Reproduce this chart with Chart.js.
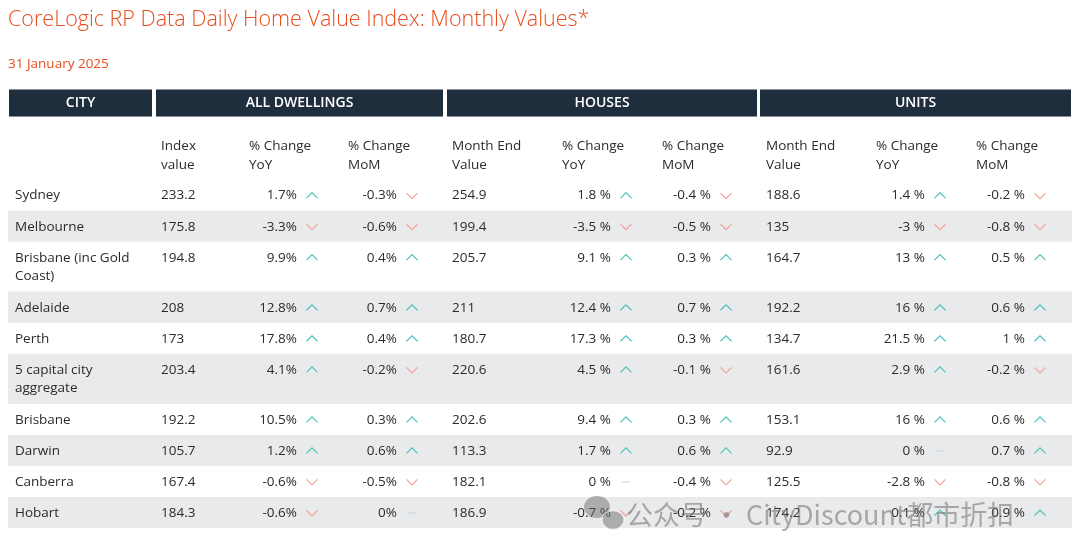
<!DOCTYPE html>
<html>
<head>
<meta charset="utf-8">
<script src="https://cdn.jsdelivr.net/npm/chart.js@4.4.1/dist/chart.umd.min.js"></script>
<style>
  html, body { margin: 0; padding: 0; background: #fff; }
  canvas { display: block; }
</style>
</head>
<body>
<canvas id="homeValueTable" width="1080" height="557"></canvas>
<script>
var cities = ['Sydney', 'Melbourne', 'Brisbane (inc Gold Coast)', 'Adelaide', 'Perth',
              '5 capital city aggregate', 'Brisbane', 'Darwin', 'Canberra', 'Hobart'];

var allIndex  = [233.2, 175.8, 194.8, 208, 173, 203.4, 192.2, 105.7, 167.4, 184.3];
var allYoY    = [1.7, -3.3, 9.9, 12.8, 17.8, 4.1, 10.5, 1.2, -0.6, -0.6];
var allMoM    = [-0.3, -0.6, 0.4, 0.7, 0.4, -0.2, 0.3, 0.6, -0.5, 0];

var houseValue = [254.9, 199.4, 205.7, 211, 180.7, 220.6, 202.6, 113.3, 182.1, 186.9];
var houseYoY   = [1.8, -3.5, 9.1, 12.4, 17.3, 4.5, 9.4, 1.7, 0, -0.7];
var houseMoM   = [-0.4, -0.5, 0.3, 0.7, 0.3, -0.1, 0.3, 0.6, -0.4, -0.2];

var unitValue = [188.6, 135, 164.7, 192.2, 134.7, 161.6, 153.1, 92.9, 125.5, 174.2];
var unitYoY   = [1.4, -3, 13, 16, 21.5, 2.9, 16, 0, -2.8, 0.1];
var unitMoM   = [-0.2, -0.8, 0.5, 0.6, 1, -0.2, 0.6, 0.7, -0.8, 0.9];

var groupTitles = ['CITY', 'ALL DWELLINGS', 'HOUSES', 'UNITS'];
var subHeaders = [
  ['Index', 'value'], ['% Change', 'YoY'], ['% Change', 'MoM'],
  ['Month End', 'Value'], ['% Change', 'YoY'], ['% Change', 'MoM'],
  ['Month End', 'Value'], ['% Change', 'YoY'], ['% Change', 'MoM']
];

// ---- layout (page pixels, x scale is mapped 1:1) ----
var groupSpans = [[9, 152], [156, 443], [447, 757], [760, 1071]];
var subHeaderX = [161, 249, 348, 452, 562, 662, 766, 876, 976];
var cityX = 15, cityWrap = 132;
var bandH = 27, subH = 63, lineH = 19, rowPad = 12;

var font = '"Open Sans", "Noto Sans", sans-serif';
var bodySize = 13.5;
var textColor = '#2b2b2b';
var upColor = '#4cc3bb', downColor = '#f3a197', flatColor = '#c8dbe2';

function wrapText(ctx, text, maxW) {
  var words = text.split(' '), lines = [], cur = '';
  words.forEach(function(w) {
    var test = cur ? cur + ' ' + w : w;
    if (cur && ctx.measureText(test).width > maxW) { lines.push(cur); cur = w; }
    else { cur = test; }
  });
  lines.push(cur);
  return lines;
}

// wrap city names first so row heights follow the line count
var measureCtx = document.createElement('canvas').getContext('2d');
measureCtx.font = bodySize + 'px ' + font;
var cityLines = cities.map(function(c) { return wrapText(measureCtx, c, cityWrap); });
var rowHeights = cityLines.map(function(l) { return rowPad + lineH * l.length; });
var rowTops = [];
var acc = bandH + subH;
rowHeights.forEach(function(h) { rowTops.push(acc); acc += h; });
var tableTotal = acc;

function pct(v, spaced) { return String(v) + (spaced ? ' %' : '%'); }

// columns: [values, kind, x, spaced %]
var columns = [
  [allIndex, 'left', 161],
  [allYoY, 'pct', 297, false],
  [allMoM, 'pct', 397, false],
  [houseValue, 'left', 452],
  [houseYoY, 'pct', 611, true],
  [houseMoM, 'pct', 711, true],
  [unitValue, 'left', 766],
  [unitYoY, 'pct', 925, true],
  [unitMoM, 'pct', 1025, true]
];

function drawTrend(ctx, cx, cy, v) {
  ctx.save();
  ctx.lineWidth = 1.2;
  ctx.beginPath();
  if (v > 0) {
    ctx.strokeStyle = upColor;
    ctx.moveTo(cx - 5.5, cy + 2.5); ctx.lineTo(cx, cy - 3); ctx.lineTo(cx + 5.5, cy + 2.5);
  } else if (v < 0) {
    ctx.strokeStyle = downColor;
    ctx.moveTo(cx - 5.5, cy - 2.5); ctx.lineTo(cx, cy + 3); ctx.lineTo(cx + 5.5, cy - 2.5);
  } else {
    ctx.strokeStyle = flatColor;
    ctx.moveTo(cx - 4, cy); ctx.lineTo(cx + 4, cy);
  }
  ctx.stroke();
  ctx.restore();
}

var tablePlugin = {
  id: 'cityTable',
  afterDraw: function(chart) {
    var ctx = chart.ctx, xs = chart.scales.x, ys = chart.scales.y;
    ctx.save();

    // header band
    ctx.fillStyle = '#1f2e3c';
    groupSpans.forEach(function(s) {
      var x0 = xs.getPixelForValue(s[0]), x1 = xs.getPixelForValue(s[1]);
      var y0 = ys.getPixelForValue(0), y1 = ys.getPixelForValue(bandH);
      ctx.fillRect(x0, y0, x1 - x0, y1 - y0);
    });
    ctx.fillStyle = '#ffffff';
    ctx.font = '600 14px ' + font;
    ctx.textAlign = 'center';
    ctx.textBaseline = 'middle';
    groupSpans.forEach(function(s, i) {
      ctx.fillText(groupTitles[i], xs.getPixelForValue((s[0] + s[1]) / 2), ys.getPixelForValue(bandH / 2));
    });

    // sub headers
    ctx.fillStyle = textColor;
    ctx.font = bodySize + 'px ' + font;
    ctx.textAlign = 'left';
    subHeaders.forEach(function(lines, i) {
      lines.forEach(function(t, j) {
        ctx.fillText(t, xs.getPixelForValue(subHeaderX[i]), ys.getPixelForValue(bandH + 30 + j * 18.5));
      });
    });

    // row stripes
    ctx.fillStyle = '#e9eaec';
    rowTops.forEach(function(top, i) {
      if (i % 2 === 1) {
        var y0 = ys.getPixelForValue(top), y1 = ys.getPixelForValue(top + rowHeights[i]);
        ctx.fillRect(xs.left, y0, xs.right - xs.left, y1 - y0);
      }
    });

    // cells
    ctx.fillStyle = textColor;
    rowTops.forEach(function(top, i) {
      var cy = ys.getPixelForValue(top + 16);
      ctx.textAlign = 'left';
      cityLines[i].forEach(function(t, j) {
        ctx.fillText(t, xs.getPixelForValue(cityX), ys.getPixelForValue(top + 16 + j * 18.5));
      });
      columns.forEach(function(col) {
        var v = col[0][i];
        if (col[1] === 'left') {
          ctx.textAlign = 'left';
          ctx.fillText(String(v), xs.getPixelForValue(col[2]), cy);
        } else {
          ctx.textAlign = 'right';
          var xr = xs.getPixelForValue(col[2]);
          ctx.fillText(pct(v, col[3]), xr, cy);
          drawTrend(ctx, xr + 15, cy, v);
        }
      });
    });

    // account watermark
    ctx.fillStyle = 'rgba(110,110,110,0.5)';
    ctx.beginPath(); ctx.ellipse(597, 507, 13, 11, 0, 0, Math.PI * 2); ctx.fill();
    ctx.strokeStyle = 'rgba(255,255,255,0.6)';
    ctx.lineWidth = 1.5;
    ctx.beginPath(); ctx.ellipse(613, 520, 11, 9.5, 0, 0, Math.PI * 2); ctx.fill(); ctx.stroke();
    ctx.fillStyle = 'rgba(110,110,110,0.55)';
    ctx.font = '27px "Noto Sans CJK SC", sans-serif';
    ctx.textAlign = 'left';
    ctx.fillText('公众号 · CityDiscount都市折扣', 626, 515);

    ctx.restore();
  }
};

var chart = new Chart(document.getElementById('homeValueTable').getContext('2d'), {
  type: 'scatter',
  data: { datasets: [{ data: [] }] },
  options: {
    responsive: false,
    animation: false,
    layout: { padding: { left: 8, right: 8, top: 0, bottom: 557 - 90 - tableTotal } },
    scales: {
      x: { type: 'linear', display: false, min: 8, max: 1072 },
      y: { type: 'linear', display: false, min: 0, max: tableTotal, reverse: true }
    },
    plugins: {
      legend: { display: false },
      tooltip: { enabled: false },
      title: {
        display: true,
        text: 'CoreLogic RP Data Daily Home Value Index: Monthly Values*',
        align: 'start',
        color: '#ea4c1d',
        font: { family: font, size: 21.5, weight: '300' },
        padding: { top: 7, bottom: 19 }
      },
      subtitle: {
        display: true,
        text: '31 January 2025',
        align: 'start',
        color: '#ea4c1d',
        font: { family: font, size: 13.5, weight: '400' },
        padding: { top: 4, bottom: 17.5 }
      }
    }
  },
  plugins: [tablePlugin]
});
</script>
</body>
</html>
